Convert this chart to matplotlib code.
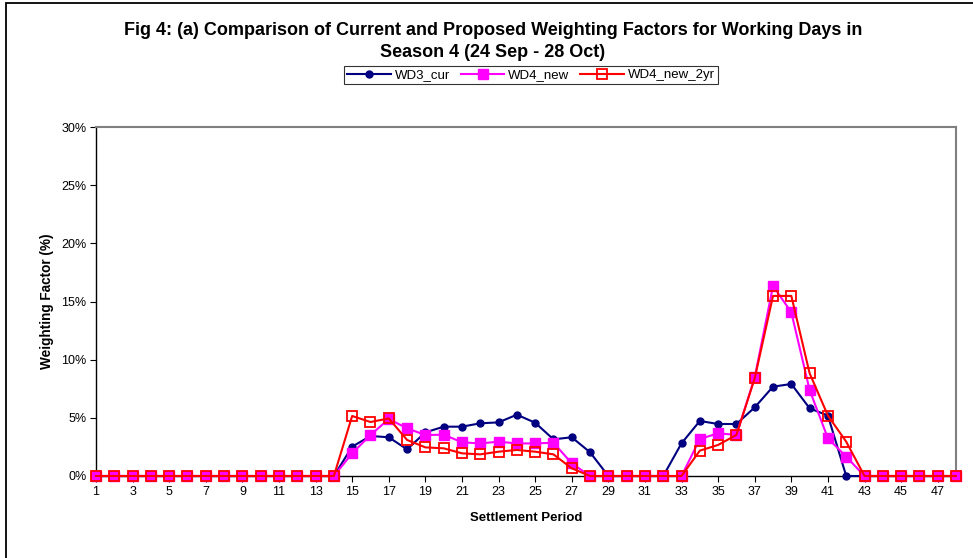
import matplotlib
matplotlib.use("Agg")
import matplotlib.pyplot as plt
from matplotlib.patches import Rectangle
from matplotlib.ticker import FixedLocator, FuncFormatter

plt.rcParams['font.family'] = ['Liberation Sans', 'DejaVu Sans']

periods = list(range(1, 49))

wd3_cur = [0]*14 + [2.52, 3.44, 3.33, 2.29, 3.75, 4.24, 4.24, 4.53, 4.61, 5.27, 4.58, 3.15, 3.33, 2.04] \
          + [0]*4 + [2.81, 4.73, 4.47, 4.47, 5.90, 7.68, 7.91, 5.82, 5.19, 0.0] + [0]*6
wd4_new = [0]*14 + [1.95, 3.52, 4.90, 4.10, 3.52, 3.55, 2.90, 2.80, 2.95, 2.80, 2.80, 2.86, 1.09, 0.0] \
          + [0]*4 + [0.0, 3.18, 3.67, 3.53, 8.48, 16.34, 14.07, 7.39, 3.24, 1.66] + [0]*6
wd4_new_2yr = [0]*14 + [5.16, 4.64, 4.95, 3.10, 2.46, 2.38, 1.95, 1.86, 2.09, 2.24, 2.09, 1.86, 0.66, 0.0] \
          + [0]*4 + [0.0, 2.18, 2.67, 3.53, 8.40, 15.48, 15.48, 8.83, 5.19, 2.95] + [0]*6

series_names = ["WD3_cur", "WD4_new", "WD4_new_2yr"]
title = "Fig 4: (a) Comparison of Current and Proposed Weighting Factors for Working Days in\nSeason 4 (24 Sep - 28 Oct)"
y_ticks = [0, 5, 10, 15, 20, 25, 30]

fig = plt.figure(figsize=(9.73, 5.58), dpi=100)
fig.patches.append(Rectangle((6/973, -0.2), 1.5, 1 - 3/558 + 0.2, transform=fig.transFigure,
                             fill=False, edgecolor='black', linewidth=1.3))

ax = fig.add_axes([96/973, 1 - 476/558, (956 - 96)/973, (476 - 127)/558])

ax.plot(periods, wd3_cur, color='#000080', lw=1.5, marker='o', ms=5,
        markerfacecolor='#000080', markeredgecolor='#000080', clip_on=False, zorder=3, label=series_names[0])
ax.plot(periods, wd4_new, color='#FF00FF', lw=1.5, marker='s', ms=7,
        markerfacecolor='#FF00FF', markeredgecolor='#FF00FF', clip_on=False, zorder=4, label=series_names[1])
ax.plot(periods, wd4_new_2yr, color='#FF0000', lw=1.5, marker='s', ms=7.5,
        markerfacecolor='none', markeredgecolor='#FF0000', markeredgewidth=1.3,
        clip_on=False, zorder=5, label=series_names[2])

ax.set_xlim(1, 48)
ax.set_ylim(0, 30)
ax.xaxis.set_major_locator(FixedLocator([p for p in periods if p % 2 == 1]))
ax.set_yticks(y_ticks)
ax.yaxis.set_major_formatter(FuncFormatter(lambda v, _: f"{int(v)}%"))
ax.tick_params(axis='both', labelsize=9, length=4, width=0.8, color='black', direction='out')
ax.tick_params(axis='x', pad=3)
ax.tick_params(axis='y', pad=3)

for s in ['left', 'bottom']:
    ax.spines[s].set_color('black')
    ax.spines[s].set_linewidth(1.0)
for s in ['top', 'right']:
    ax.spines[s].set_color('#808080')
    ax.spines[s].set_linewidth(1.5)

ax.set_xlabel("Settlement Period", fontsize=9.5, fontweight='bold', labelpad=10)
ax.set_ylabel("Weighting Factor (%)", fontsize=9.8, fontweight='bold', labelpad=5)

fig.text(493/973, 1 - 22/558, title, ha='center', va='top', fontsize=13, fontweight='bold', linespacing=1.35)

leg = fig.legend(loc='center', bbox_to_anchor=(531/973, 1 - 75/558), ncol=3, fontsize=9.5,
                 frameon=True, fancybox=False, edgecolor='black', handlelength=3.3,
                 columnspacing=0.8, handletextpad=0.3, borderpad=0.25)
leg.get_frame().set_linewidth(0.8)

fig.savefig("out.png", dpi=100)
